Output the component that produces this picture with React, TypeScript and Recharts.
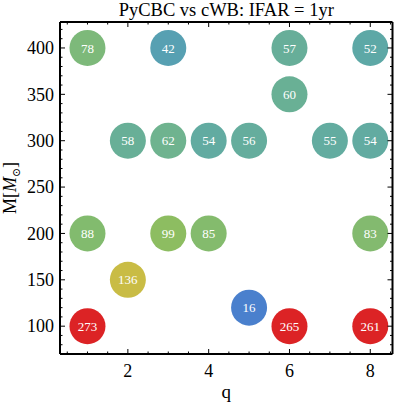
import React from "react";
import { ScatterChart, Scatter, XAxis, YAxis, Label } from "recharts";

const qValues = [1, 3, 6, 8, 6, 2, 3, 4, 5, 7, 8, 1, 3, 4, 8, 2, 5, 1, 6, 8];
const massValues = [400, 400, 400, 400, 350, 300, 300, 300, 300, 300, 300, 200, 200, 200, 200, 150, 120, 100, 100, 100];
const counts = [78, 42, 57, 52, 60, 58, 62, 54, 56, 55, 54, 88, 99, 85, 83, 136, 16, 273, 265, 261];
const pointColors = [
  "#7db97a", "#57a0b2", "#67ae99", "#5da8a6", "#69b095", "#68af97", "#6fb38f",
  "#62aba1", "#65ad9d", "#63aca0", "#62aba1", "#82bb6e", "#8dbd61", "#84bb6d",
  "#83ba6f", "#c9bc45", "#4a80cd", "#dc2325", "#dc2325", "#dc2325",
];

const xTicks = [0.5, 1, 1.5, 2, 2.5, 3, 3.5, 4, 4.5, 5, 5.5, 6, 6.5, 7, 7.5, 8, 8.5];
const xMajor = [2, 4, 6, 8];
const yTicks = [80, 90, 100, 110, 120, 130, 140, 150, 160, 170, 180, 190, 200, 210, 220, 230, 240, 250, 260, 270, 280, 290, 300, 310, 320, 330, 340, 350, 360, 370, 380, 390, 400, 410, 420];
const yMajor = [100, 150, 200, 250, 300, 350, 400];

const title = "PyCBC vs cWB: IFAR = 1yr";
const xLabel = "q";

const data = qValues.map((q, i) => ({ q, m: massValues[i], n: counts[i], color: pointColors[i] }));

const FONT = "'Liberation Serif', 'DejaVu Serif', serif";
const MAJ = 5;
const MIN = 2.5;

const BottomTick = (props: any) => {
  const { x, y, payload } = props;
  const major = xMajor.includes(payload.value);
  return (
    <g>
      <line x1={x} x2={x} y1={y} y2={y - (major ? MAJ : MIN)} stroke="#000" strokeWidth={1} />
      {major && (
        <text x={x} y={y + 23} textAnchor="middle" fontSize={18} fontFamily={FONT} fill="#000">
          {payload.value}
        </text>
      )}
    </g>
  );
};

const TopTick = (props: any) => {
  const { x, y, payload } = props;
  const major = xMajor.includes(payload.value);
  return <line x1={x} x2={x} y1={y} y2={y + (major ? MAJ : MIN)} stroke="#000" strokeWidth={1} />;
};

const LeftTick = (props: any) => {
  const { x, y, payload } = props;
  const major = yMajor.includes(payload.value);
  return (
    <g>
      <line x1={x} x2={x + (major ? MAJ : MIN)} y1={y} y2={y} stroke="#000" strokeWidth={1} />
      {major && (
        <text x={x - 6} y={y} dy="0.35em" textAnchor="end" fontSize={18} fontFamily={FONT} fill="#000">
          {payload.value}
        </text>
      )}
    </g>
  );
};

const RightTick = (props: any) => {
  const { x, y, payload } = props;
  const major = yMajor.includes(payload.value);
  return <line x1={x} x2={x - (major ? MAJ : MIN)} y1={y} y2={y} stroke="#000" strokeWidth={1} />;
};

const Bubble = (props: any) => {
  const { cx, cy, payload } = props;
  return (
    <g>
      <circle cx={cx} cy={cy} r={18} fill={payload.color} />
      <text x={cx} y={cy} dy="0.35em" textAnchor="middle" fontSize={13} fontFamily={FONT} fill="#fff">
        {payload.n}
      </text>
    </g>
  );
};

const axisLine = { stroke: "#000", strokeWidth: 2 };

export default function App() {
  return (
    <div style={{ position: "absolute", left: 0, top: 0 }}>
      <ScatterChart width={395} height={403} margin={{ top: 0, right: 0, bottom: 0, left: 0 }}>
        <XAxis
          xAxisId="b"
          dataKey="q"
          type="number"
          domain={[0.32, 8.55]}
          allowDataOverflow
          ticks={xTicks}
          interval={0}
          height={49}
          tickSize={0}
          tickMargin={0}
          tickLine={false}
          axisLine={axisLine}
          tick={<BottomTick />}
        >
          <Label
            content={(p: any) => {
              const vb = p.viewBox;
              return (
                <text x={vb.x + vb.width / 2} y={vb.y + 44} textAnchor="middle" fontSize={19} fontFamily={FONT} fill="#000">
                  {xLabel}
                </text>
              );
            }}
          />
        </XAxis>
        <XAxis
          xAxisId="t"
          orientation="top"
          dataKey="q"
          type="number"
          domain={[0.32, 8.55]}
          allowDataOverflow
          ticks={xTicks}
          interval={0}
          height={22}
          tickSize={0}
          tickMargin={0}
          tickLine={false}
          axisLine={axisLine}
          tick={<TopTick />}
        >
          <Label
            content={(p: any) => {
              const vb = p.viewBox;
              return (
                <text x={vb.x + vb.width / 2} y={vb.y + 16} textAnchor="middle" fontSize={18.5} fontFamily={FONT} fill="#000">
                  {title}
                </text>
              );
            }}
          />
        </XAxis>
        <YAxis
          yAxisId="l"
          dataKey="m"
          type="number"
          domain={[70, 428]}
          allowDataOverflow
          ticks={yTicks}
          interval={0}
          width={60}
          tickSize={0}
          tickMargin={0}
          tickLine={false}
          axisLine={axisLine}
          tick={<LeftTick />}
        >
          <Label
            content={(p: any) => {
              const vb = p.viewBox;
              const cx = 10;
              const cy = vb.y + vb.height / 2;
              return (
                <text
                  x={cx}
                  y={cy}
                  dy="0.35em"
                  textAnchor="middle"
                  fontSize={18}
                  fontFamily={FONT}
                  fill="#000"
                  transform={`rotate(-90, ${cx}, ${cy})`}
                >
                  <tspan>M[</tspan>
                  <tspan fontStyle="italic">M</tspan>
                  <tspan fontSize={11} dy={4}>⊙</tspan>
                  <tspan dy={-4}>]</tspan>
                </text>
              );
            }}
          />
        </YAxis>
        <YAxis
          yAxisId="r"
          orientation="right"
          dataKey="m"
          type="number"
          domain={[70, 428]}
          allowDataOverflow
          ticks={yTicks}
          interval={0}
          width={2.5}
          tickSize={0}
          tickMargin={0}
          tickLine={false}
          axisLine={axisLine}
          tick={<RightTick />}
        />
        <Scatter data={data} xAxisId="b" yAxisId="l" shape={<Bubble />} isAnimationActive={false} />
      </ScatterChart>
    </div>
  );
}
